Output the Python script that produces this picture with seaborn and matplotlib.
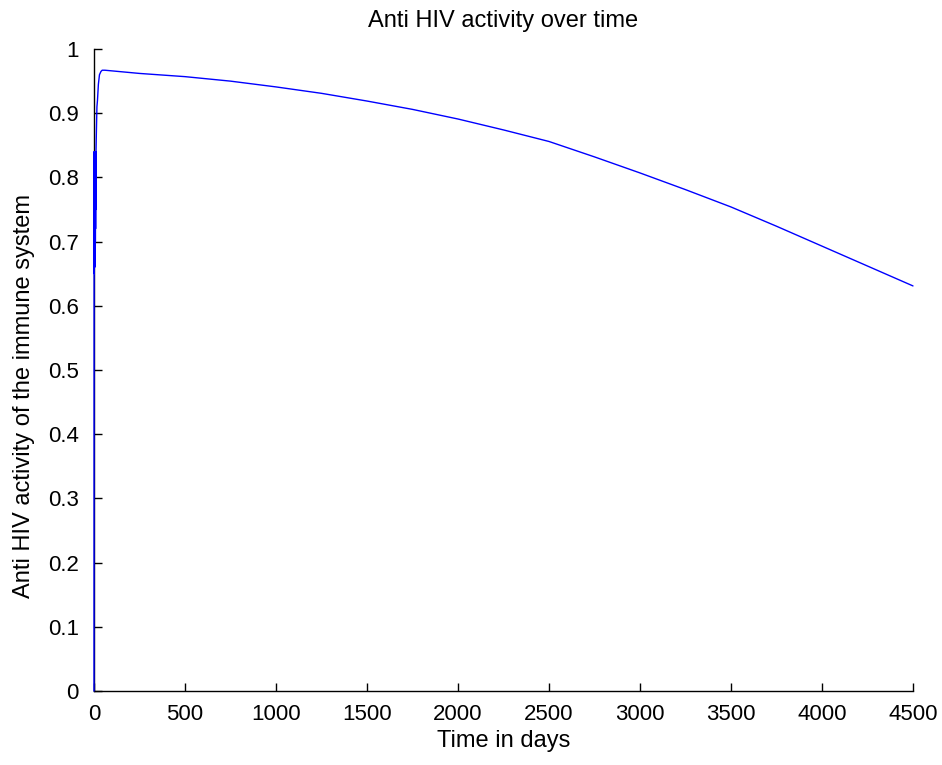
import numpy as np
import pandas as pd
import matplotlib
matplotlib.use("Agg")
import matplotlib.pyplot as plt
import seaborn as sns

# -----------------------------------------------------------------------------
# DATA
# -----------------------------------------------------------------------------

# early transient: jump from 0, fast oscillation, then rise to the plateau
early_days = [0, 0.5, 1.0, 1.5, 2.0, 2.5, 3.0, 3.5, 4.0, 4.5, 5.0, 5.5, 6.0,
              6.5, 7.0, 7.5, 8.0, 8.5, 9.0, 9.5, 10.0, 11.0, 13.0, 16.0,
              19.0, 24.0, 30.0, 38.0, 45.0]
early_activity = [0.0, 0.65, 0.84, 0.65, 0.84, 0.66, 0.84, 0.66, 0.84, 0.67,
                  0.84, 0.68, 0.84, 0.69, 0.84, 0.70, 0.84, 0.72, 0.84, 0.75,
                  0.84, 0.84, 0.87, 0.91, 0.92, 0.945, 0.96, 0.965, 0.967]

# slow decline over the following years
late_days = [60, 250, 500, 750, 1000, 1250, 1500, 1750, 2000, 2250, 2500,
             2750, 3000, 3250, 3500, 3750, 4000, 4250, 4500]
late_activity = [0.967, 0.962, 0.957, 0.950, 0.941, 0.931, 0.919, 0.906,
                 0.891, 0.874, 0.856, 0.832, 0.807, 0.781, 0.754, 0.724,
                 0.693, 0.662, 0.631]

df = pd.DataFrame({
    "days": early_days + late_days,
    "activity": early_activity + late_activity,
})

# -----------------------------------------------------------------------------
# PLOT
# -----------------------------------------------------------------------------

sns.set_style("white")
plt.rcParams["font.family"] = ["Liberation Sans", "DejaVu Sans"]
plt.rcParams["text.color"] = "black"
plt.rcParams["axes.labelcolor"] = "black"

fig = plt.figure(figsize=(9.42, 7.65), dpi=100)
ax = fig.add_axes([0.0998, 0.0967, 0.8694, 0.8392])

sns.lineplot(data=df, x="days", y="activity", ax=ax, color="#0000ff",
             linewidth=1.0, sort=False, estimator=None)
for line in ax.lines:
    line.set_zorder(5)
    line.set_clip_on(False)

ax.set_xlim(0, 4500)
ax.set_ylim(0, 1)
ax.set_xticks(np.arange(0, 4501, 500))
ax.set_yticks(np.arange(0, 1.01, 0.1))
ax.set_yticklabels(["0", "0.1", "0.2", "0.3", "0.4", "0.5", "0.6", "0.7",
                    "0.8", "0.9", "1"])

ax.set_title("Anti HIV activity over time", fontsize=17, pad=16, color="black")
ax.set_xlabel("Time in days", fontsize=17, labelpad=4)
ax.set_ylabel("Anti HIV activity of the immune system", fontsize=17, labelpad=9)
ax.yaxis.label.set_y(0.46)

sns.despine(ax=ax)
for side in ["left", "bottom"]:
    ax.spines[side].set_color("black")
    ax.spines[side].set_linewidth(1.0)
ax.tick_params(direction="in", length=6, width=1, colors="black",
               labelsize=16, left=True, bottom=True)
ax.tick_params(axis="x", pad=9)
ax.tick_params(axis="y", pad=11)

fig.savefig("out.png", dpi=100)
